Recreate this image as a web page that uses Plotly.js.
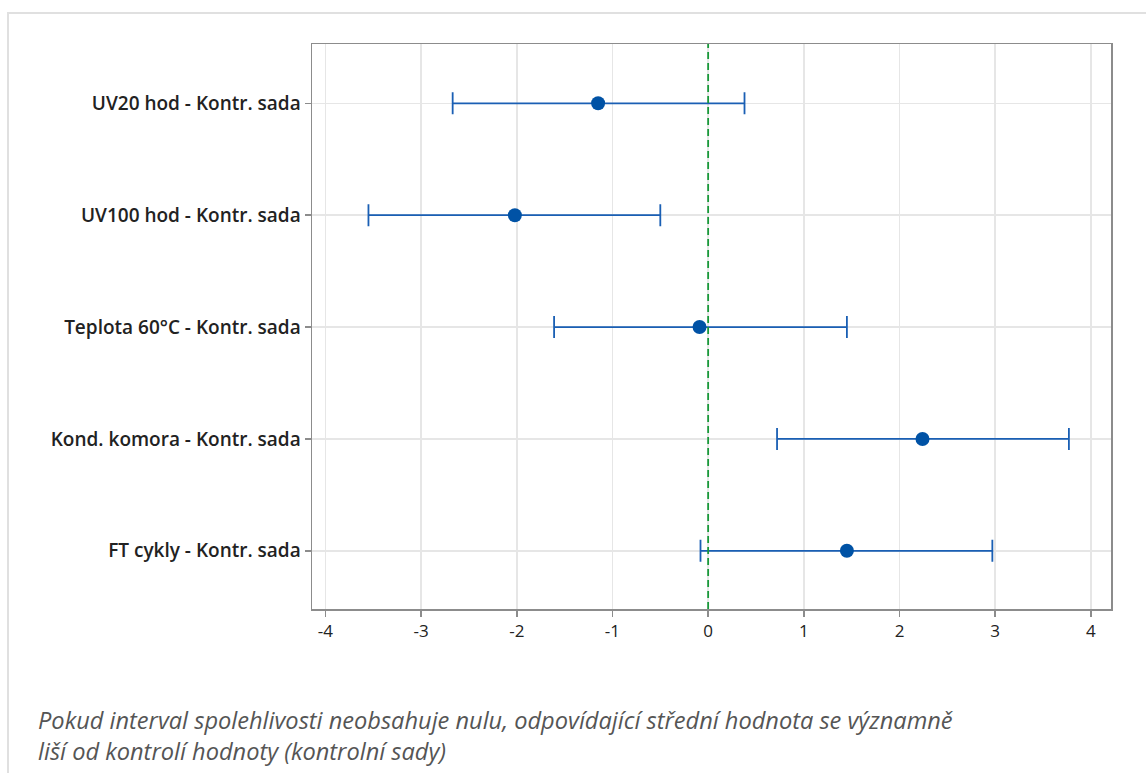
<!DOCTYPE html>
<html>
<head>
<meta charset="utf-8">
<script src="https://cdn.plot.ly/plotly-3.0.1.min.js"></script>
<style>
html,body{margin:0;padding:0;background:#fff;}
#frame{position:absolute;left:7px;top:12px;width:1139px;height:761px;border-left:2px solid #e0e0e0;border-top:2px solid #e0e0e0;box-sizing:border-box;pointer-events:none;}
#chart{width:1146px;height:773px;}
</style>
</head>
<body>
<div id="chart"></div>
<div id="frame"></div>
<script>
var categories = ["UV20 hod - Kontr. sada", "UV100 hod - Kontr. sada", "Teplota 60°C - Kontr. sada", "Kond. komora - Kontr. sada", "FT cykly - Kontr. sada"];
var means = [-1.15, -2.02, -0.09, 2.24, 1.45];
var lower = [-2.67, -3.55, -1.61, 0.72, -0.08];
var upper = [0.38, -0.50, 1.45, 3.77, 2.97];
var xTicks = [-4, -3, -2, -1, 0, 1, 2, 3, 4];
var caption = "Pokud interval spolehlivosti neobsahuje nulu, odpovídající střední hodnota se významně<br>liší od kontrolí hodnoty (kontrolní sady)";

var errPlus = means.map(function(m, i){ return upper[i] - m; });
var errMinus = means.map(function(m, i){ return m - lower[i]; });

var trace = {
  type: 'scatter',
  mode: 'markers',
  x: means,
  y: categories,
  marker: {color: '#0052a5', size: 14, symbol: 'circle'},
  error_x: {type: 'data', symmetric: false, array: errPlus, arrayminus: errMinus,
            color: '#1a5fb4', thickness: 1.8, width: 11},
  hoverinfo: 'x+y',
  showlegend: false
};

var layout = {
  width: 1146, height: 773,
  margin: {l: 312, r: 35, t: 44, b: 164},
  paper_bgcolor: '#fff', plot_bgcolor: '#fff',
  font: {family: 'Open Sans, Noto Sans, sans-serif', color: '#222'},
  xaxis: {
    range: [-4.14, 4.21], tickvals: xTicks, ticktext: xTicks.map(String),
    showgrid: true, gridcolor: '#e6e6e6', gridwidth: 1.5, zeroline: false,
    showline: true, mirror: true, linecolor: '#8c8c8c', linewidth: 1.5,
    ticks: 'outside', ticklen: 6, tickcolor: '#8c8c8c', tickwidth: 1.5,
    tickfont: {size: 17, color: '#222'}
  },
  yaxis: {
    type: 'category', categoryorder: 'array', categoryarray: categories.slice().reverse(),
    range: [-0.52, 4.53],
    showgrid: true, gridcolor: '#e6e6e6', gridwidth: 1.5, zeroline: false,
    showline: true, mirror: true, linecolor: '#8c8c8c', linewidth: 1.5,
    ticks: 'outside', ticklen: 6, tickcolor: '#8c8c8c', tickwidth: 1.5,
    tickfont: {size: 19, color: '#222', weight: 600}
  },
  shapes: [{
    type: 'line', xref: 'x', yref: 'paper', x0: 0, x1: 0, y0: 0, y1: 1,
    line: {color: '#18993a', width: 1.8, dash: '7px,4px'}
  }],
  annotations: [{
    xref: 'paper', yref: 'paper', x: -0.345, y: -0.165, xanchor: 'left', yanchor: 'top',
    align: 'left', showarrow: false, text: caption,
    font: {size: 23.6, color: '#555', style: 'italic', family: 'Open Sans, Noto Sans, sans-serif'}
  }]
};

Plotly.newPlot('chart', [trace], layout, {displayModeBar: false, staticPlot: true});
</script>
</body>
</html>
